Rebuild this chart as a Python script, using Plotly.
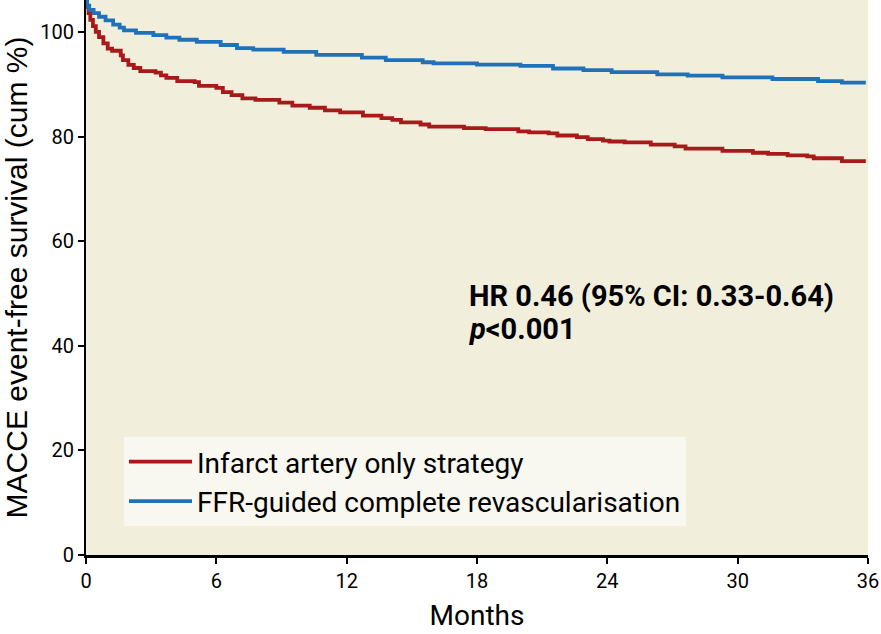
import plotly.graph_objects as go

# Kaplan-Meier style step data (start time of each level, months ; survival %)
infarct_t = [0, 0.05, 0.12, 0.2, 0.32, 0.45, 0.6, 0.8, 1.0, 1.2, 1.6, 1.7, 1.95, 2.2, 2.5,
             3.2, 3.45, 3.7, 4.2, 5.0, 5.2, 6.0, 6.3, 6.7, 7.2, 7.8, 8.9, 9.5, 10.3, 11.0,
             11.7, 12.75, 13.6, 14.1, 14.5, 15.4, 15.8, 17.4, 18.4, 19.9, 20.4, 21.3, 21.7,
             22.6, 23.1, 23.8, 24.1, 24.8, 26.0, 27.1, 27.6, 29.3, 30.7, 31.4, 32.3, 33.2,
             33.5, 34.8, 35.9]
infarct_v = [106.0, 104.8, 103.6, 102.3, 101.1, 100.0, 99.0, 97.8, 96.8, 96.4, 95.5, 94.6,
             93.7, 93.1, 92.5, 92.2, 91.7, 91.2, 90.6, 90.4, 89.7, 89.3, 88.5, 87.9, 87.3,
             87.0, 86.5, 85.9, 85.5, 85.0, 84.6, 84.0, 83.5, 83.2, 82.7, 82.3, 81.9, 81.6,
             81.4, 81.0, 80.8, 80.6, 80.2, 79.9, 79.5, 79.2, 79.05, 78.9, 78.45, 78.1, 77.7,
             77.25, 76.9, 76.7, 76.4, 76.2, 75.85, 75.3, 75.3]

ffr_t = [0, 0.05, 0.15, 0.35, 0.6, 0.9, 1.25, 1.55, 1.75, 2.3, 3.1, 3.7, 4.3, 5.1, 6.2,
         6.95, 7.7, 9.1, 10.6, 12.7, 13.8, 15.5, 16.0, 18.0, 20.0, 21.5, 22.9, 24.2, 26.3,
         27.7, 29.3, 31.6, 33.7, 34.8, 35.9]
ffr_v = [106.0, 105.0, 104.2, 103.6, 102.9, 102.2, 101.4, 100.8, 100.3, 99.8, 99.4, 98.9,
         98.5, 98.1, 97.5, 96.9, 96.6, 96.2, 95.6, 95.1, 94.6, 94.2, 94.0, 93.75, 93.5, 93.0,
         92.7, 92.3, 91.9, 91.65, 91.3, 91.0, 90.6, 90.3, 90.3]

series_names = ["Infarct artery only strategy", "FFR-guided complete revascularisation"]
x_ticks = [0, 6, 12, 18, 24, 30, 36]
y_ticks = [0, 20, 40, 60, 80, 100]
hr_text = "HR 0.46 (95% CI: 0.33-0.64)"
p_text = "<i>p</i>&lt;0.001"

FONT = "Roboto, Liberation Sans, Arial, sans-serif"

fig = go.Figure()
fig.add_trace(go.Scatter(x=infarct_t, y=infarct_v, mode="lines", line_shape="hv",
                         name=series_names[0], line=dict(color="#a81a1a", width=3.8)))
fig.add_trace(go.Scatter(x=ffr_t, y=ffr_v, mode="lines", line_shape="hv",
                         name=series_names[1], line=dict(color="#2072b8", width=3.8)))

fig.add_annotation(x=17.55, y=49.6, xref="x", yref="y", text="<b>" + hr_text + "</b>",
                   showarrow=False, xanchor="left", yanchor="middle",
                   font=dict(family=FONT, size=29, color="black"))
fig.add_annotation(x=17.55, y=43.2, xref="x", yref="y", text="<b>" + p_text + "</b>",
                   showarrow=False, xanchor="left", yanchor="middle",
                   font=dict(family=FONT, size=29, color="black"))

fig.update_layout(
    width=881, height=634,
    margin=dict(l=86, r=13, t=0, b=79),
    plot_bgcolor="#f2eedc", paper_bgcolor="white",
    showlegend=True,
    legend=dict(x=0.0486, y=0.2126, xanchor="left", yanchor="top",
                bgcolor="#f8f7f0", font=dict(family=FONT, size=28, color="black"),
                borderwidth=0, tracegroupgap=0, itemwidth=63),
    xaxis=dict(range=[0, 36], tickvals=x_ticks, ticks="outside", ticklen=6, tickwidth=1.5,
               tickcolor="black", showline=True, linecolor="black", linewidth=2.5,
               showgrid=False, zeroline=False, automargin=False,
               tickfont=dict(family=FONT, size=20, color="black"),
               title=dict(text="Months", font=dict(family=FONT, size=28, color="black"),
                          standoff=14)),
    yaxis=dict(range=[0, 106.1], tickvals=y_ticks, ticks="outside", ticklen=6, tickwidth=1.5,
               tickcolor="black", showline=True, linecolor="black", linewidth=2,
               showgrid=False, zeroline=False, automargin=False,
               tickfont=dict(family=FONT, size=20, color="black"),
               title=dict(text="MACCE event-free survival (cum %)",
                          font=dict(family="Liberation Sans, Arial, sans-serif", size=30,
                                    color="black"), standoff=4)),
)

fig.write_html("out.html", config={"displayModeBar": False},
               post_script="document.body.style.margin='0';")
